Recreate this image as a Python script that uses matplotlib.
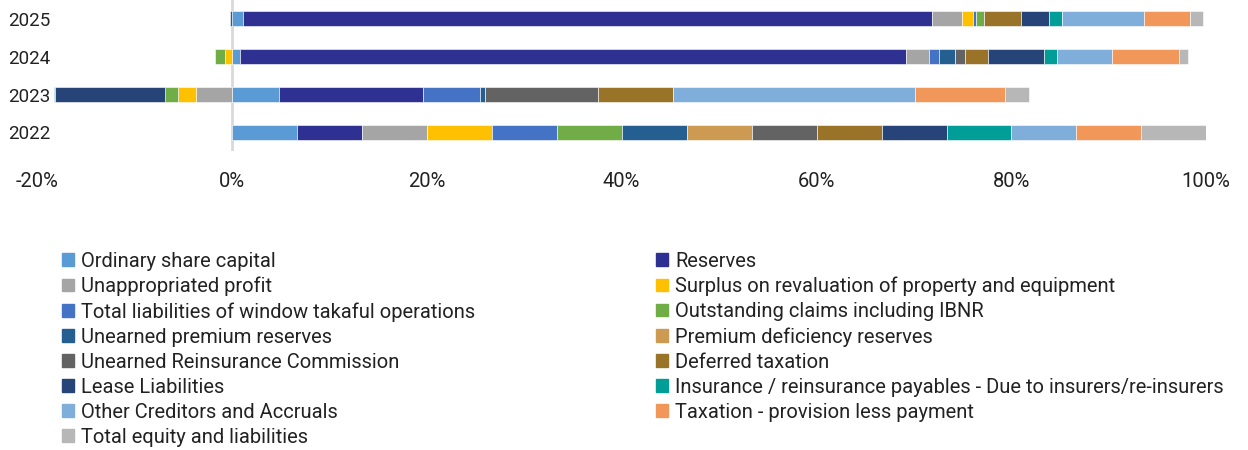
import numpy as np
import matplotlib.pyplot as plt
from matplotlib.patches import Patch

plt.rcParams["font.family"] = ["Roboto", "DejaVu Sans"]

years = ["2022", "2023", "2024", "2025"]

series = [
    "Ordinary share capital",
    "Reserves",
    "Unappropriated profit",
    "Surplus on revaluation of property and equipment",
    "Total liabilities of window takaful operations",
    "Outstanding claims including IBNR",
    "Unearned premium reserves",
    "Premium deficiency reserves",
    "Unearned Reinsurance Commission",
    "Deferred taxation",
    "Lease Liabilities",
    "Insurance / reinsurance payables - Due to insurers/re-insurers",
    "Other Creditors and Accruals",
    "Taxation - provision less payment",
    "Total equity and liabilities",
]

colors = [
    "#5b9bd5", "#2e3192", "#a5a5a5", "#ffc000", "#4472c4",
    "#70ad47", "#255e91", "#cc9a50", "#636363", "#997328",
    "#264478", "#009e96", "#7faedb", "#f1975a", "#b7b7b7",
]

# percentage share per year (2022, 2023, 2024, 2025)
osc = [6.67, 4.8, 0.85, 1.2]
reserves = [6.67, 14.8, 68.4, 70.7]
unappropriated = [6.67, -3.7, 2.3, 3.1]
surplus = [6.67, -1.8, -0.7, 1.1]
window_takaful = [6.67, 5.9, 1.0, 0.3]
outstanding_claims = [6.67, -1.4, -1.0, 0.85]
unearned_premium = [6.67, 0.5, 1.7, -0.2]
premium_deficiency = [6.67, 0.0, 0.0, 0.0]
unearned_commission = [6.67, 11.6, 1.0, 0.0]
deferred_tax = [6.67, 7.7, 2.4, 3.8]
lease = [6.67, -11.2, 5.7, 2.8]
insurance_payables = [6.67, -0.15, 1.4, 1.4]
other_creditors = [6.67, 24.8, 5.65, 8.4]
taxation = [6.67, 9.3, 6.8, 4.7]
total_eq_liab = [6.67, 2.4, 1.0, 1.3]

values = [osc, reserves, unappropriated, surplus, window_takaful,
          outstanding_claims, unearned_premium, premium_deficiency,
          unearned_commission, deferred_tax, lease, insurance_payables,
          other_creditors, taxation, total_eq_liab]

fig = plt.figure(figsize=(12.48, 4.5), dpi=100)
ax = fig.add_axes([0.0296, 0.664, 0.9367, 0.336])

y = np.arange(len(years))
pos_left = np.zeros(len(years))
neg_left = np.zeros(len(years))
for name, vals, c in zip(series, values, colors):
    vals = np.array(vals, dtype=float)
    left = np.where(vals >= 0, pos_left, neg_left)
    ax.barh(y, vals, left=left, height=0.4, color=c,
            edgecolor="white", linewidth=0.4)
    pos_left += np.where(vals >= 0, vals, 0)
    neg_left += np.where(vals < 0, vals, 0)

ax.axvline(0, color="#d9d9d9", lw=2, zorder=0)

ax.set_xlim(-20, 100)
ax.set_ylim(-0.5, 3.5)
ax.set_yticks(y)
ax.set_yticklabels(years, fontsize=13.5, color="#222222")
ax.set_xticks(np.arange(-20, 101, 20))
ax.set_xticklabels([f"{t}%" for t in range(-20, 101, 20)], fontsize=14.5, color="#222222")
ax.tick_params(axis="x", length=0, pad=15)
ax.tick_params(axis="y", length=0, pad=-9.5)
for s in ax.spines.values():
    s.set_visible(False)

# legend in two columns, filled row by row
handles = [Patch(color=c) for c in colors]
for col, x0 in [(0, 0.0497), (1, 0.5256)]:
    idx = list(range(col, len(series), 2))
    fig.legend([handles[i] for i in idx], [series[i] for i in idx],
               loc="upper left", bbox_to_anchor=(x0, 0.441),
               frameon=False, fontsize=14.5, handlelength=0.6, handleheight=0.6,
               handletextpad=0.35, labelspacing=0.3, borderpad=0,
               borderaxespad=0, labelcolor="#222222")

plt.savefig("out.png", dpi=100)
